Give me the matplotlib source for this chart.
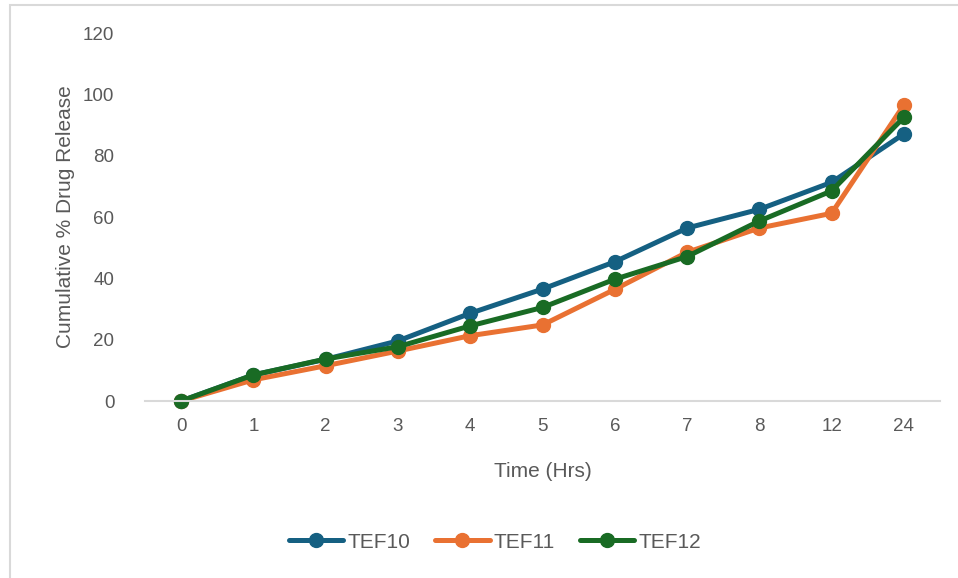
import matplotlib
matplotlib.use("Agg")
import matplotlib.pyplot as plt
from matplotlib.patches import Rectangle

plt.rcParams.update({"font.family": ["Liberation Sans", "DejaVu Sans"]})

time_labels = ["0", "1", "2", "3", "4", "5", "6", "7", "8", "12", "24"]
tef10 = [0, 8.5, 13.6, 19.6, 28.6, 36.5, 45.4, 56.4, 62.5, 71.3, 87.1]
tef11 = [0, 6.9, 11.5, 16.3, 21.3, 24.8, 36.4, 48.5, 56.4, 61.2, 96.5]
tef12 = [0, 8.5, 13.7, 17.7, 24.5, 30.5, 39.7, 47.1, 58.7, 68.5, 92.5]

series = [("TEF10", tef10, "#156082"),
          ("TEF11", tef11, "#E97132"),
          ("TEF12", tef12, "#196B24")]
TXT = "#595959"

fig = plt.figure(figsize=(9.58, 5.78), dpi=100)
ax = fig.add_axes([145 / 958, 177 / 578, 795 / 958, 368 / 578])

x = list(range(len(time_labels)))
for name, vals, col in series:
    ax.plot(x, vals, color=col, lw=3.6, marker="o", ms=10, clip_on=False,
            solid_capstyle="round", solid_joinstyle="round", label=name)

ax.set_xlim(-0.5, len(time_labels) - 0.5)
ax.set_ylim(0, 120)
ax.set_yticks(range(0, 121, 20))
ax.set_xticks(x)
ax.set_xticklabels(time_labels)
ax.tick_params(length=0, labelsize=13.5, labelcolor=TXT)
ax.tick_params(axis="y", pad=22)
ax.tick_params(axis="x", pad=12)
for s in ["top", "right", "left"]:
    ax.spines[s].set_visible(False)
ax.spines["bottom"].set_color("#d9d9d9")
ax.spines["bottom"].set_linewidth(1.5)

ax.set_xlabel("Time (Hrs)", fontsize=15, color=TXT, labelpad=20)
ax.set_ylabel("Cumulative % Drug Release", fontsize=15, color=TXT, labelpad=6)

fig.legend(loc="center", bbox_to_anchor=(495 / 958, 1 - 542 / 578), ncol=3,
           frameon=False, fontsize=15, labelcolor=TXT, handlelength=2.6,
           handletextpad=0.2, columnspacing=1.2)

# light frame on the left and top edges of the chart area
fig.patches.append(Rectangle((9.5 / 958, -0.1), 1.2, 1.1 - 5.5 / 578,
                             transform=fig.transFigure, fill=False,
                             ec="#d9d9d9", lw=1.5))

fig.savefig("out.png", dpi=100)
